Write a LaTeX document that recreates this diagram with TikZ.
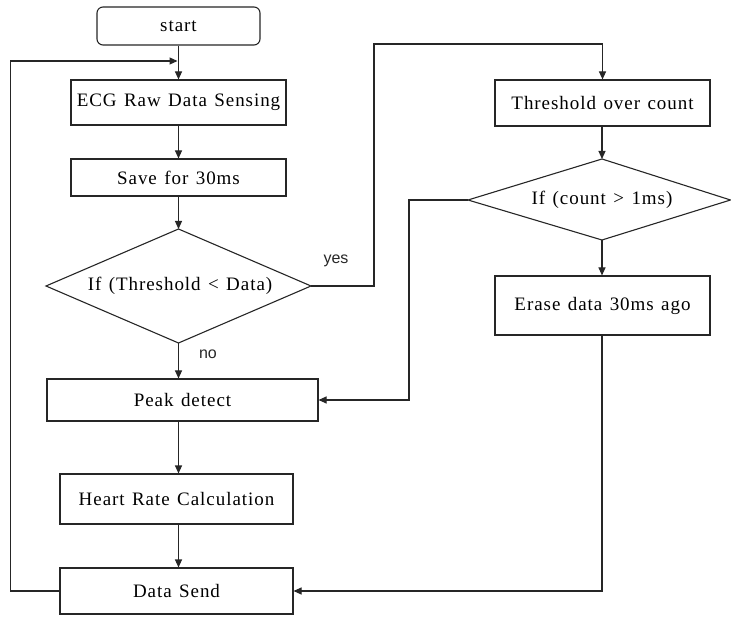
\documentclass[tikz,border=0pt]{standalone}
\usepackage{fontspec}
\setmainfont{Liberation Serif}[LetterSpace=5,WordSpace=1.3]
\newfontfamily\lblfont{Liberation Sans}
\usetikzlibrary{arrows.meta}
\begin{document}
\begin{tikzpicture}[x=1pt,y=-1pt,
  every node/.style={font=\fontsize{19}{21}\selectfont, text=black},
  box/.style={draw=black!85, line width=1.1pt, rectangle, inner sep=0pt, fill=white},
  dia/.style={draw=black!85, line width=1.1pt, fill=white},
  lbl/.style={font=\lblfont\fontsize{16}{18}\selectfont, text=black!85},
  arr/.style={draw=black!85, line width=1.1pt, -{Triangle[length=8pt,width=7pt]}},
  ln/.style={draw=black!85, line width=1.1pt}]
\useasboundingbox (0,0) rectangle (731,617);
\node[box, rounded corners=6pt, minimum width=163pt, minimum height=38pt] (start) at (178.5,26) {start};
\node[box, minimum width=215pt, minimum height=45pt] (ecg) at (178.5,102.5) {ECG Raw Data Sensing};
\node[box, minimum width=215pt, minimum height=37pt] (save) at (178.5,177.5) {Save for 30ms};
% decision 1
\coordinate (d1n) at (178.5,229);
\coordinate (d1s) at (178.5,343);
\coordinate (d1w) at (46,286);
\coordinate (d1e) at (311,286);
\draw[dia] (d1n) -- (d1e) -- (d1s) -- (d1w) -- cycle;
\node (d1) at (180,286) {If (Threshold < Data)};
\node[box, minimum width=271pt, minimum height=42pt] (peak) at (182.5,400) {Peak detect};
\node[box, minimum width=233pt, minimum height=50pt] (hr) at (176.5,499) {Heart Rate Calculation};
\node[box, minimum width=233pt, minimum height=46pt] (send) at (176.5,591) {Data Send};
\node[box, minimum width=215pt, minimum height=46pt] (thr) at (602.5,103) {Threshold over count};
% decision 2
\coordinate (d2n) at (602,159);
\coordinate (d2s) at (602,240);
\coordinate (d2w) at (468,200);
\coordinate (d2e) at (730.5,200);
\draw[dia] (d2n) -- (d2e) -- (d2s) -- (d2w) -- cycle;
\node (d2) at (602,200) {If (count > 1ms)};
\node[box, minimum width=215pt, minimum height=59pt] (erase) at (602.5,305.5) {Erase data 30ms ago};
\node[lbl] (yes) at (336,261) {yes};
\node[lbl] (no) at (208,354) {no};
\coordinate (loopend) at (177.5,61);
\coordinate (yesturn) at (374,44);
\coordinate (d2turn) at (409,200);
% main column
\draw[arr] (start) -- (ecg);
\draw[arr] (ecg) -- (save);
\draw[arr] (save) -- (d1n);
\draw[arr] (d1s) -- (d1s |- peak.north);
\draw[arr] (peak.south -| ecg.south) -- (hr.north -| ecg.south);
\draw[arr] (hr.south -| ecg.south) -- (send.north -| ecg.south);
% loop back
\draw[arr] (send.west) -- ++(-49,0) |- (loopend);
% yes branch
\draw[arr] (d1e) -| (yesturn) -| (thr.north);
\draw[arr] (thr.south -| d2n) -- (d2n);
\draw[arr] (d2s) -- (d2s |- erase.north);
\draw[arr] (d2w) -- (d2turn) |- (peak.east);
\draw[arr] (erase.south -| d2s) |- (send.east);
\end{tikzpicture}
\end{document}
